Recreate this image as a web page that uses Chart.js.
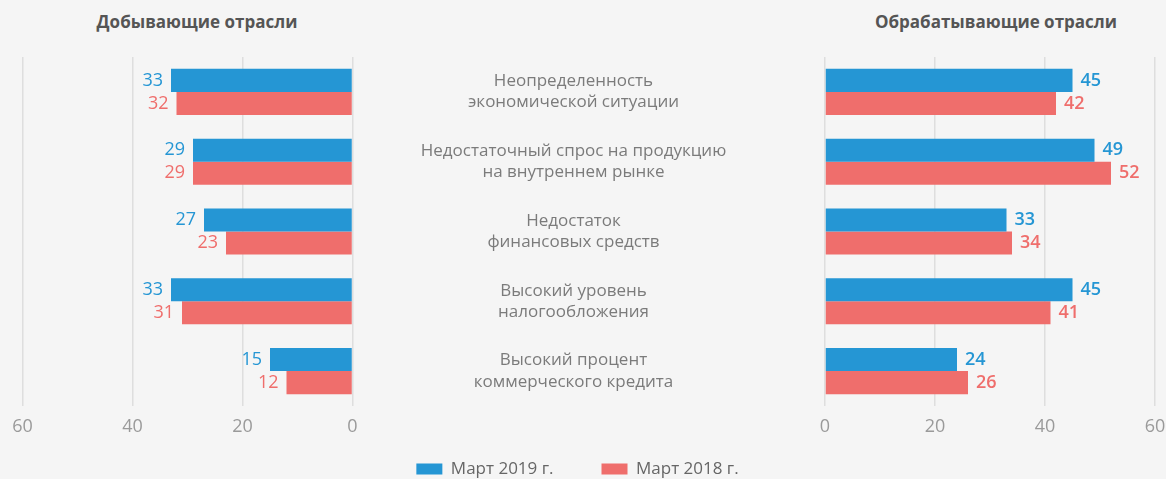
<!DOCTYPE html>
<html><head><meta charset="utf-8">
<script src="https://cdn.jsdelivr.net/npm/chart.js@4.4.1/dist/chart.umd.min.js"></script>
<style>
html,body{margin:0;padding:0;background:#f5f5f5;overflow:hidden;}
#wrap{position:relative;width:1166px;height:479px;overflow:hidden;background:#f5f5f5;}
canvas{position:absolute;top:0;left:0;}
.title{position:absolute;top:12px;line-height:20px;font-family:'Open Sans',sans-serif;font-weight:700;font-size:17px;color:#555;transform:translateX(-50%);white-space:nowrap;}
</style></head>
<body><div id="wrap">
<div class="title" style="left:197px">Добывающие отрасли</div>
<div class="title" style="left:996px">Обрабатывающие отрасли</div>
<canvas id="right" width="1166" height="530"></canvas>
<canvas id="left" width="400" height="530"></canvas>
</div>
<script>
const categories = [
  ["Неопределенность", "экономической ситуации"],
  ["Недостаточный спрос на продукцию", "на внутреннем рынке"],
  ["Недостаток", "финансовых средств"],
  ["Высокий уровень", "налогообложения"],
  ["Высокий процент", "коммерческого кредита"]
];
const seriesNames = ["Март 2019 г.", "Март 2018 г."];
const mining2019 = [33, 29, 27, 33, 15];
const mining2018 = [32, 29, 23, 31, 12];
const manuf2019 = [45, 49, 33, 45, 24];
const manuf2018 = [42, 52, 34, 41, 26];
const xTicks = [0, 20, 40, 60];

const BLUE = '#2596d4', RED = '#ef6e6c';
const FONT = "'Open Sans', sans-serif";
const CAT_FONT_SIZE = 17;
const CANVAS_H = 530, AREA_TOP = 57, AREA_BOTTOM = 406, X_AXIS_H = 34.5;
const LEGEND_PAD = 48, LEGEND_FONT = 17, LEGEND_CENTER_Y = 469;

// measure widest category line for centering the labels
const mctx = document.createElement('canvas').getContext('2d');
mctx.font = CAT_FONT_SIZE + "px 'Open Sans'";
let widest = 0;
categories.forEach(c => c.forEach(l => { widest = Math.max(widest, mctx.measureText(l).width); }));
const AREA_LEFT = 825, LABEL_CENTER = 581.5;
const labelPad = AREA_LEFT - LABEL_CENTER - widest / 2;

const valueLabels = {
  id: 'valueLabels',
  afterDatasetsDraw(chart, args, opts) {
    const ctx = chart.ctx; ctx.save();
    ctx.font = opts.weight + " 18px 'Open Sans'";
    ctx.textBaseline = 'middle';
    chart.data.datasets.forEach((ds, i) => {
      const meta = chart.getDatasetMeta(i);
      meta.data.forEach((bar, j) => {
        ctx.fillStyle = ds.backgroundColor;
        ctx.textAlign = opts.dir < 0 ? 'right' : 'left';
        ctx.fillText(String(ds.data[j]), bar.x + opts.dir * 8, bar.y);
      });
    });
    ctx.restore();
  }
};

// move the legend row up to its place under the axis labels
const legendShift = {
  id: 'legendShift',
  afterLayout(chart) {
    const lg = chart.legend;
    if (!lg || !lg.options.display) return;
    const want = LEGEND_CENTER_Y - LEGEND_PAD - LEGEND_FONT / 2;
    const d = want - lg.top;
    lg.top += d; lg.bottom += d;
  }
};

function xScale(reverse) {
  return {
    type: 'linear', min: 0, max: 60, reverse, offset: false,
    afterBuildTicks(s) { s.ticks = xTicks.map(v => ({ value: v })); },
    grid: { color: '#dedede', lineWidth: 1.5, drawTicks: false },
    border: { display: false },
    ticks: { color: '#9a9a9a', font: { family: FONT, size: 18 }, padding: 10, maxRotation: 0, autoSkip: false },
    afterFit(s) { s.height = X_AXIS_H; s.paddingLeft = 0; s.paddingRight = 0; }
  };
}

function datasets(a, b) {
  return [
    { label: seriesNames[0], data: a, backgroundColor: BLUE, categoryPercentage: 0.66, barPercentage: 1.0 },
    { label: seriesNames[1], data: b, backgroundColor: RED, categoryPercentage: 0.66, barPercentage: 1.0 }
  ];
}

const legendH = LEGEND_FONT + LEGEND_PAD + 10;

new Chart(document.getElementById('right'), {
  type: 'bar',
  data: { labels: categories, datasets: datasets(manuf2019, manuf2018) },
  options: {
    responsive: false, animation: false, indexAxis: 'y',
    layout: { padding: { top: AREA_TOP, right: 11, bottom: CANVAS_H - AREA_BOTTOM - X_AXIS_H - legendH, left: 0 } },
    scales: {
      x: xScale(false),
      y: {
        type: 'category', position: 'left', offset: true,
        grid: { display: false }, border: { display: false },
        ticks: { color: '#7b7b7b', font: { family: FONT, size: CAT_FONT_SIZE, lineHeight: 1.25 }, crossAlign: 'center', padding: labelPad, autoSkip: false },
        afterFit(s) { s.width = AREA_LEFT; s.paddingTop = 0; s.paddingBottom = 0; }
      }
    },
    plugins: {
      legend: {
        position: 'bottom',
        labels: { boxWidth: 26, boxHeight: 11, padding: LEGEND_PAD, color: '#666', font: { family: FONT, size: LEGEND_FONT } }
      },
      tooltip: { enabled: false },
      valueLabels: { dir: 1, weight: 600 }
    }
  },
  plugins: [valueLabels, legendShift]
});

new Chart(document.getElementById('left'), {
  type: 'bar',
  data: { labels: categories, datasets: datasets(mining2019, mining2018) },
  options: {
    responsive: false, animation: false, indexAxis: 'y',
    layout: { padding: { top: AREA_TOP, right: 47.5, bottom: CANVAS_H - AREA_BOTTOM - X_AXIS_H, left: 22.5 } },
    scales: {
      x: xScale(true),
      y: { type: 'category', display: false, offset: true }
    },
    plugins: {
      legend: { display: false },
      tooltip: { enabled: false },
      valueLabels: { dir: -1, weight: 400 }
    }
  },
  plugins: [valueLabels]
});
</script>
</body></html>
